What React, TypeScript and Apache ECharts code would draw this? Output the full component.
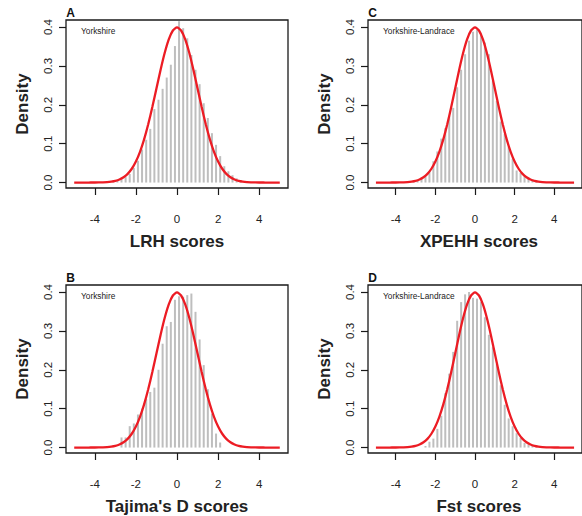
import React, { useEffect, useRef } from "react";
import * as echarts from "echarts";

// Histogram bin midpoints (bin width 0.2)
const binMids = [
  -3.1, -2.9, -2.7, -2.5, -2.3, -2.1, -1.9, -1.7, -1.5, -1.3, -1.1, -0.9, -0.7, -0.5, -0.3, -0.1,
  0.1, 0.3, 0.5, 0.7, 0.9, 1.1, 1.3, 1.5, 1.7, 1.9, 2.1, 2.3, 2.5, 2.7, 2.9, 3.1, 3.3,
];

// Densities per bin
const lrhDensity = [
  0.002, 0.004, 0.008, 0.014, 0.022, 0.038, 0.056, 0.085, 0.11, 0.138, 0.189, 0.213, 0.241, 0.27, 0.303, 0.351,
  0.415, 0.397, 0.371, 0.328, 0.29, 0.253, 0.204, 0.166, 0.127, 0.097, 0.068, 0.042, 0.029, 0.019, 0.011, 0.006, 0.003,
];
const xpehhDensity = [
  0.002, 0.005, 0.01, 0.016, 0.03, 0.055, 0.08, 0.113, 0.14, 0.17, 0.192, 0.245, 0.29, 0.33, 0.365, 0.388,
  0.392, 0.38, 0.36, 0.33, 0.262, 0.21, 0.157, 0.125, 0.092, 0.062, 0.031, 0.025, 0.018, 0.012, 0.008, 0.004, 0.002,
];
const tajimaDensity = [
  0, 0, 0.026, 0.026, 0.055, 0.062, 0.085, 0.1, 0.125, 0.143, 0.154, 0.2, 0.267, 0.312, 0.323, 0.38,
  0.389, 0.388, 0.392, 0.396, 0.349, 0.278, 0.212, 0.15, 0.087, 0.036, 0.013, 0, 0, 0, 0, 0, 0,
];
const fstDensity = [
  0, 0, 0, 0.004, 0.015, 0.023, 0.048, 0.082, 0.14, 0.19, 0.246, 0.326, 0.374, 0.394, 0.4, 0.385,
  0.383, 0.375, 0.335, 0.29, 0.258, 0.215, 0.16, 0.11, 0.075, 0.055, 0.037, 0.025, 0.012, 0.007, 0.004, 0.003, 0.002,
];

// Reference normal density curve (read at 0.2 steps)
const curveX = [
  -5, -4.8, -4.6, -4.4, -4.2, -4, -3.8, -3.6, -3.4, -3.2, -3, -2.8, -2.6, -2.4, -2.2, -2, -1.8, -1.6, -1.4, -1.2, -1,
  -0.8, -0.6, -0.4, -0.2, 0, 0.2, 0.4, 0.6, 0.8, 1, 1.2, 1.4, 1.6, 1.8, 2, 2.2, 2.4, 2.6, 2.8, 3, 3.2, 3.4, 3.6, 3.8,
  4, 4.2, 4.4, 4.6, 4.8, 5,
];
const curveY = [
  0, 0, 0, 0, 0.0001, 0.0001, 0.0003, 0.0006, 0.0012, 0.0024, 0.0044, 0.0079, 0.0136, 0.0224, 0.0355, 0.054, 0.079,
  0.1109, 0.1497, 0.1942, 0.242, 0.2897, 0.3332, 0.3683, 0.391, 0.3989, 0.391, 0.3683, 0.3332, 0.2897, 0.242, 0.1942,
  0.1497, 0.1109, 0.079, 0.054, 0.0355, 0.0224, 0.0136, 0.0079, 0.0044, 0.0024, 0.0012, 0.0006, 0.0003, 0.0001,
  0.0001, 0, 0, 0, 0,
];

const xTicks = [-4, -2, 0, 2, 4];
const yTicks = [0, 0.1, 0.2, 0.3, 0.4];

const panelLetters = ["A", "C", "B", "D"];
const axisTitles = ["LRH scores", "XPEHH scores", "Tajima's D scores", "Fst scores"];
const populations = ["Yorkshire", "Yorkshire-Landrace", "Yorkshire", "Yorkshire-Landrace"];
const densities = [lrhDensity, xpehhDensity, tajimaDensity, fstDensity];

const FONT = "'Liberation Sans', Arial, Helvetica, sans-serif";
const gridLefts = [66, 368, 66, 368];
const gridTops = [20, 20, 285, 285];
const GW = 222;
const GH = 168;

export default function App() {
  const ref = useRef<HTMLDivElement>(null);
  useEffect(() => {
    document.body.style.margin = "0";
    const chart = echarts.init(ref.current!, null, { renderer: "svg" });
    const grids: any[] = [];
    const xAxes: any[] = [];
    const yAxes: any[] = [];
    const series: any[] = [];
    const graphics: any[] = [];
    for (let i = 0; i < 4; i++) {
      const left = gridLefts[i];
      const top = gridTops[i];
      grids.push({
        left,
        top,
        width: GW,
        height: GH,
        show: true,
        borderColor: "#1a1a1a",
        borderWidth: 1.3,
        backgroundColor: "transparent",
      });
      xAxes.push({
        type: "value",
        gridIndex: i,
        min: -5.4,
        max: 5.4,
        axisLine: { show: false, onZero: false },
        splitLine: { show: false },
        axisTick: {
          show: true,
          customValues: xTicks,
          length: 7,
          lineStyle: { color: "#1a1a1a", width: 1.2 },
        },
        axisLabel: {
          customValues: xTicks,
          margin: 25,
          fontSize: 11.5,
          color: "#222",
          fontFamily: FONT,
          formatter: (v: number) => String(v),
        },
      });
      yAxes.push({
        type: "value",
        gridIndex: i,
        min: -0.014,
        max: 0.418,
        axisLine: { show: false, onZero: false },
        splitLine: { show: false },
        axisTick: {
          show: true,
          customValues: yTicks,
          length: 7,
          lineStyle: { color: "#1a1a1a", width: 1.2 },
        },
        axisLabel: {
          customValues: yTicks,
          rotate: 90,
          margin: 12,
          fontSize: 11.5,
          color: "#222",
          fontFamily: FONT,
          formatter: (v: number) => v.toFixed(1),
        },
      });
      series.push({
        type: "bar",
        xAxisIndex: i,
        yAxisIndex: i,
        barWidth: 2,
        itemStyle: { color: "#bebebe" },
        data: binMids.map((m, k) => [m, densities[i][k]]),
        z: 2,
      });
      series.push({
        type: "line",
        xAxisIndex: i,
        yAxisIndex: i,
        showSymbol: false,
        smooth: 0.2,
        lineStyle: { color: "#ec1c24", width: 2.3 },
        data: curveX.map((x, k) => [x, curveY[k]]),
        z: 3,
      });
      graphics.push({
        type: "text",
        x: left + 4.5,
        y: top - 7,
        style: {
          text: panelLetters[i],
          font: `bold 12px ${FONT}`,
          fill: "#111",
          align: "center",
          verticalAlign: "middle",
        },
      });
      graphics.push({
        type: "text",
        x: left + 15,
        y: top + 11.3,
        style: {
          text: populations[i],
          font: `8.3px ${FONT}`,
          fill: "#222",
          align: "left",
          verticalAlign: "middle",
        },
      });
      graphics.push({
        type: "text",
        x: left - 44,
        y: top + 84,
        rotation: Math.PI / 2,
        style: {
          text: "Density",
          font: `bold 17px ${FONT}`,
          fill: "#222",
          align: "center",
          verticalAlign: "middle",
        },
      });
      graphics.push({
        type: "text",
        x: left + 111,
        y: top + 221.5,
        style: {
          text: axisTitles[i],
          font: `bold 17px ${FONT}`,
          fill: "#222",
          align: "center",
          verticalAlign: "middle",
        },
      });
    }
    chart.setOption({
      animation: false,
      backgroundColor: "#ffffff",
      grid: grids,
      xAxis: xAxes,
      yAxis: yAxes,
      series,
      graphic: graphics,
    });
    return () => chart.dispose();
  }, []);
  return <div ref={ref} style={{ width: 582, height: 516 }} />;
}
